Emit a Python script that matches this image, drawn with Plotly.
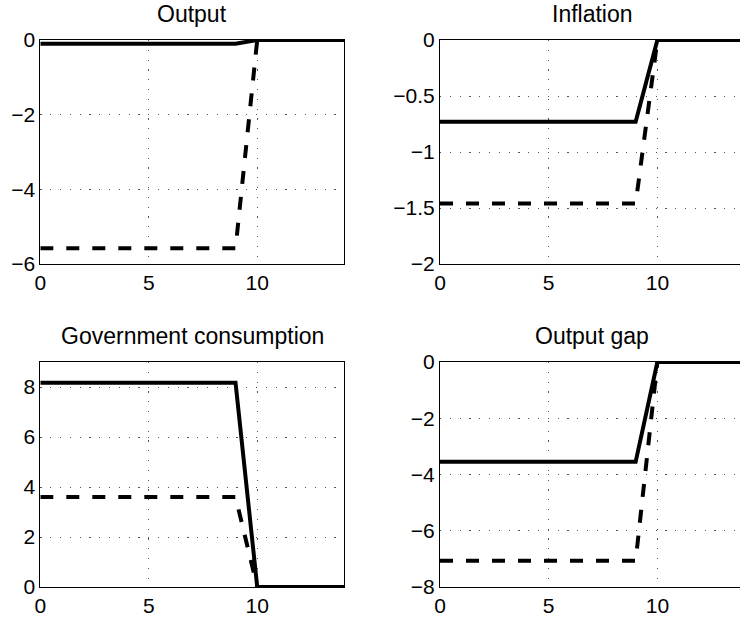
import plotly.graph_objects as go

# ---- data ----
periods = [0, 1, 2, 3, 4, 5, 6, 7, 8, 9, 10, 11, 12, 13, 14]

output_solid = [-0.10, -0.10, -0.10, -0.10, -0.10, -0.10, -0.10, -0.10, -0.10, -0.10, 0, 0, 0, 0, 0]
output_dashed = [-5.58, -5.58, -5.58, -5.58, -5.58, -5.58, -5.58, -5.58, -5.58, -5.58, 0, 0, 0, 0, 0]

inflation_solid = [-0.73, -0.73, -0.73, -0.73, -0.73, -0.73, -0.73, -0.73, -0.73, -0.73, 0, 0, 0, 0, 0]
inflation_dashed = [-1.46, -1.46, -1.46, -1.46, -1.46, -1.46, -1.46, -1.46, -1.46, -1.46, 0, 0, 0, 0, 0]

gov_solid = [8.17, 8.17, 8.17, 8.17, 8.17, 8.17, 8.17, 8.17, 8.17, 8.17, 0, 0, 0, 0, 0]
gov_dashed = [3.60, 3.60, 3.60, 3.60, 3.60, 3.60, 3.60, 3.60, 3.60, 3.60, 0, 0, 0, 0, 0]

gap_solid = [-3.55, -3.55, -3.55, -3.55, -3.55, -3.55, -3.55, -3.55, -3.55, -3.55, 0, 0, 0, 0, 0]
gap_dashed = [-7.07, -7.07, -7.07, -7.07, -7.07, -7.07, -7.07, -7.07, -7.07, -7.07, 0, 0, 0, 0, 0]

titles = ["Output", "Inflation", "Government consumption", "Output gap"]
x_ticks = [0, 5, 10]
y_ranges = [[-6, 0], [-2, 0], [0, 9], [-8, 0]]
y_ticks = [[-6, -4, -2, 0], [-2, -1.5, -1, -0.5, 0], [0, 2, 4, 6, 8], [-8, -6, -4, -2, 0]]
x_ranges = [[0, 14], [0, 13.8], [0, 14], [0, 13.8]]

W, H = 740, 621
font_family = "Liberation Sans, Arial, Helvetica, sans-serif"
tick_size = 21
title_size = 23

# domains (pixels -> paper fractions)
left_dom = [40.3 / W, 344.0 / W]
right_dom = [440.0 / W, 1.0]
top_dom = [1 - 264.0 / H, 1 - 40.0 / H]
bot_dom = [1 - 587.0 / H, 1 - 362.0 / H]

panels = [
    (left_dom, top_dom, output_solid, output_dashed, True),
    (right_dom, top_dom, inflation_solid, inflation_dashed, False),
    (left_dom, bot_dom, gov_solid, gov_dashed, True),
    (right_dom, bot_dom, gap_solid, gap_dashed, False),
]

fig = go.Figure()
layout = dict(
    width=W, height=H, autosize=False,
    margin=dict(l=0, r=0, t=0, b=0, pad=0),
    paper_bgcolor="white", plot_bgcolor="white",
    showlegend=False,
    font=dict(family=font_family, size=tick_size, color="black"),
    template="none",
)
grid_style = dict(showgrid=True, gridcolor="#555", gridwidth=1, griddash="1.2px,8.6px")
annotations = []
for i, (xd, yd, s, d, is_left) in enumerate(panels):
    n = i + 1
    xa = "x" if n == 1 else f"x{n}"
    ya = "y" if n == 1 else f"y{n}"
    fig.add_trace(go.Scatter(x=periods, y=d, mode="lines", xaxis=xa, yaxis=ya,
                             line=dict(color="black", width=4, dash="13px,13px")))
    fig.add_trace(go.Scatter(x=periods, y=s, mode="lines", xaxis=xa, yaxis=ya,
                             line=dict(color="black", width=4)))
    xkey = "xaxis" if n == 1 else f"xaxis{n}"
    ykey = "yaxis" if n == 1 else f"yaxis{n}"
    layout[xkey] = dict(
        domain=xd, range=x_ranges[i], anchor=ya,
        tickvals=x_ticks, showline=True, linecolor="black", linewidth=1,
        mirror=True, ticks="", zeroline=False, automargin=False,
        tickfont=dict(size=tick_size, family=font_family, color="black"),
        **grid_style,
    )
    layout[ykey] = dict(
        domain=yd, range=y_ranges[i], anchor=xa,
        tickvals=y_ticks[i], showline=True, linecolor="black", linewidth=1,
        mirror=is_left, ticks="", zeroline=False, automargin=False,
        tickfont=dict(size=tick_size, family=font_family, color="black"),
        **grid_style,
    )
    # full (unclipped) panel width: right panels extend to x=14 beyond the page edge
    px_left = xd[0] * W
    px_right = px_left + (xd[1] * W - px_left) * 14.0 / x_ranges[i][1]
    annotations.append(dict(
        text=titles[i], xref="paper", yref="paper",
        x=(px_left + px_right) / 2 / W,
        y=yd[1], xanchor="center", yanchor="bottom", yshift=11, showarrow=False,
        font=dict(size=title_size, family=font_family, color="black"),
    ))
layout["annotations"] = annotations
fig.update_layout(**layout)
fig.write_html("out.html", config={"displayModeBar": False},
               post_script="document.body.style.margin='0';")
